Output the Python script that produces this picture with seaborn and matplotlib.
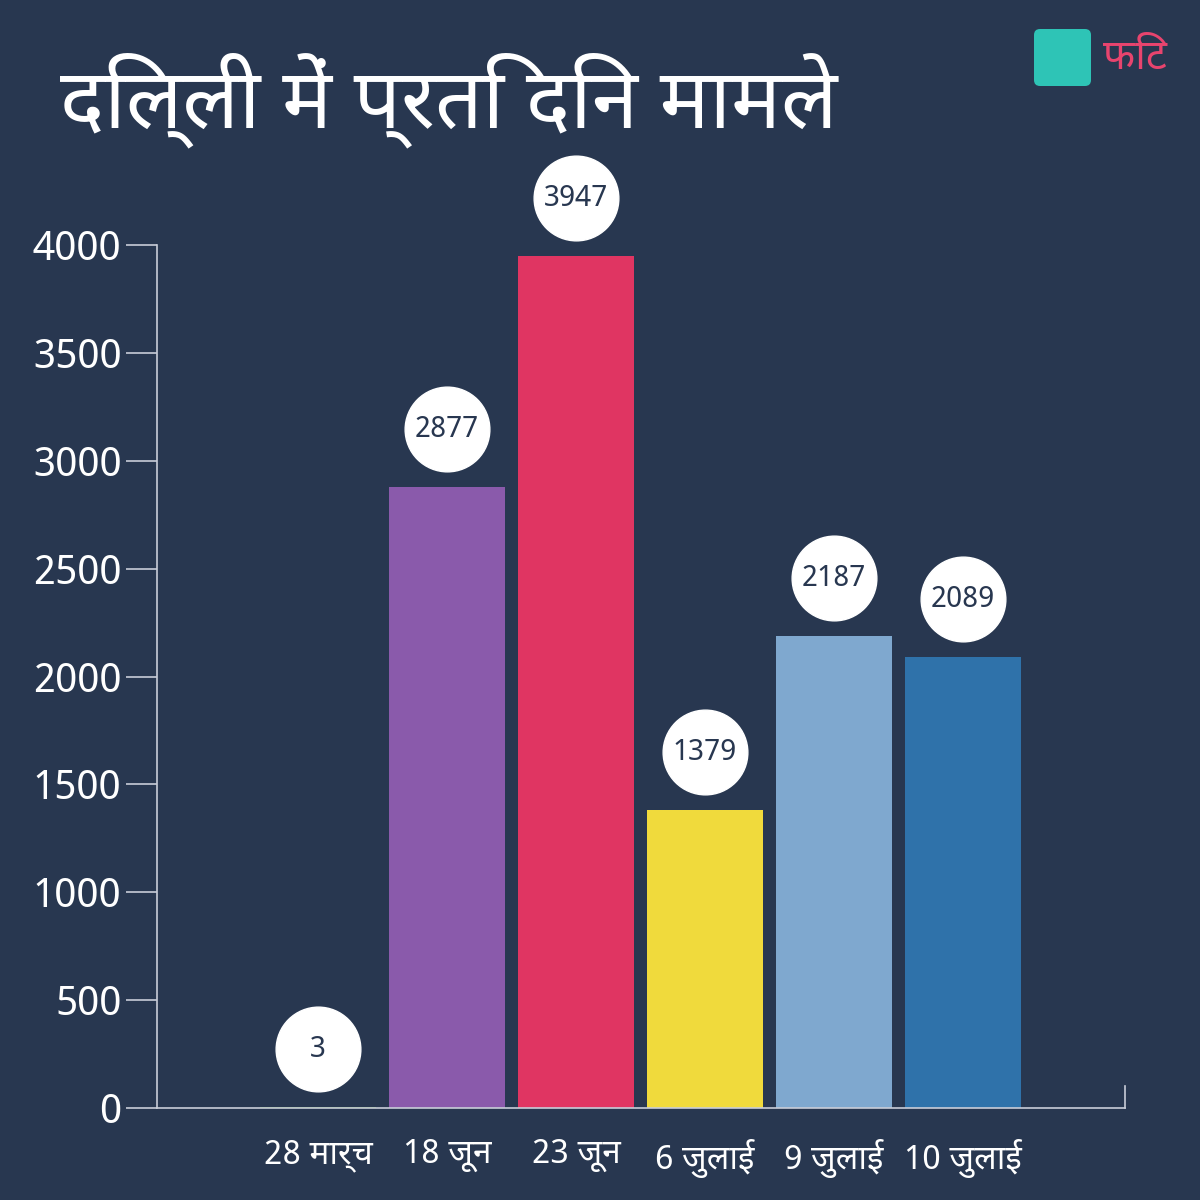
import matplotlib
matplotlib.use("Agg")
import matplotlib.pyplot as plt
import matplotlib.transforms as mtrans
import seaborn as sns
import pandas as pd
from matplotlib import font_manager as fm

names = {f.name for f in fm.fontManager.ttflist}
fams = [f for f in ["Noto Sans Devanagari", "Lohit Devanagari", "Noto Sans", "DejaVu Sans"] if f in names]
plt.rcParams["font.family"] = fams

categories = ["28 मार्च", "18 जून", "23 जून", "6 जुलाई", "9 जुलाई", "10 जुलाई"]
values = [3, 2877, 3947, 1379, 2187, 2089]
colors = ["#5a9a3a", "#8a5aab", "#e03562", "#f0da3c", "#7fa8cf", "#2f72aa"]
yticks = [0, 500, 1000, 1500, 2000, 2500, 3000, 3500, 4000]
title = "दिल्ली में प्रति दिन मामले"

bg = "#283750"
fig = plt.figure(figsize=(12, 12), dpi=100, facecolor=bg)
ax = fig.add_axes([157/1200, 1 - 1108/1200, (1125-157)/1200, (1108-245)/1200])
ax.set_facecolor(bg)
df = pd.DataFrame({"cat": categories, "val": values})
sns.barplot(data=df, x="cat", y="val", hue="cat", palette=colors, legend=False,
            width=0.9, saturation=1, ax=ax)
ax.set_xlim(-1.25, 6.26)
ax.set_ylim(0, 4000)
ax.set_yticks(yticks)
ax.set_xlabel(""); ax.set_ylabel("")
for s in ["top", "right"]:
    ax.spines[s].set_visible(False)
for s in ["left", "bottom"]:
    ax.spines[s].set_color("#c8cdd8")
    ax.spines[s].set_linewidth(1.2)
ax.tick_params(axis="y", colors="white", labelsize=29, length=22, width=1.2, color="#c8cdd8")
ax.tick_params(axis="x", colors="white", labelsize=24, length=0, pad=22)
ax.plot([6.26, 6.26], [0, 100], color="#c8cdd8", lw=1.2, clip_on=False)

tr = mtrans.offset_copy(ax.transData, fig=fig, x=0, y=58, units="dots")
for i, v in enumerate(values):
    ax.plot([i], [v], marker="o", markersize=61, color="white", transform=tr, clip_on=False)
    ax.text(i, v, f"{v}", transform=tr, ha="center", va="center", fontsize=21,
            fontweight="bold", color="#283750", clip_on=False)

fig.text(60/1200, 1 - 100/1200, title, color="white", fontsize=60, fontweight="bold",
         ha="left", va="center")
fig.text(1135/1200, 1 - 58/1200, "फिट", color="#e8446e", fontsize=30, fontweight="bold",
         ha="center", va="center")
fig.patches.append(matplotlib.patches.FancyBboxPatch((1040/1200, 1 - 80/1200), 45/1200, 45/1200,
                   boxstyle="round,pad=0.005", fc="#2ec4b6", ec="none", transform=fig.transFigure))
fig.savefig("out.png", dpi=100, facecolor=bg)
